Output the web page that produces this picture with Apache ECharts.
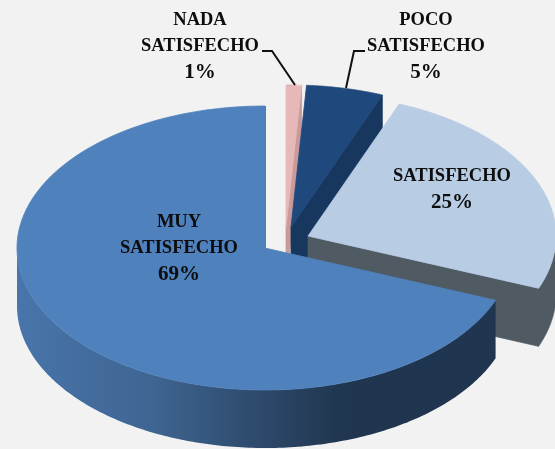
<!DOCTYPE html>
<html>
<head>
<meta charset="utf-8">
<style>html,body{margin:0;padding:0;background:#f2f2f2}#c{width:555px;height:449px}</style>
<script src="https://cdn.jsdelivr.net/npm/echarts@6/dist/echarts.min.js"></script>
</head>
<body>
<div id="c"></div>
<script>
// Data
const categories = ['NADA\nSATISFECHO', 'POCO\nSATISFECHO', 'SATISFECHO', 'MUY\nSATISFECHO'];
const values = [1, 5, 25, 69];

// Layout and style, per slice
const centers = [[286, 227], [291, 227], [308, 236], [265, 248]];
const topColors = ['#e6b9b8', '#1f497d', '#b8cce4', '#4f81bd'];
const cutColors = ['#c99a99', '#17375e', '#4f5a63', '#1f3550'];
const labelAt = [[200, 47], [426, 47], [452, 190], [179, 249]];
const leaders = [
  [[262, 51], [272, 51], [295, 85]],
  [[365, 51], [354, 51], [346, 88]],
  null,
  null
];
const RX = 248, RY = 142, DEPTH = 58;

const total = values.reduce((a, b) => a + b, 0);
const pt = (c, deg, dy) => {
  const r = deg * Math.PI / 180;
  return [c[0] + RX * Math.sin(r), c[1] - RY * Math.cos(r) + (dy || 0)];
};
const arc = (c, a, b, dy) => {
  const out = [];
  for (let i = 0; i <= 180; i++) out.push(pt(c, a + (b - a) * i / 180, dy));
  return out;
};
const startOf = i => values.slice(0, i).reduce((s, v) => s + v, 0) / total * 360;

function renderItem(params, api) {
  const i = params.dataIndex;
  const a = startOf(i);
  const b = a + api.value(0) / total * 360;
  const c = centers[i];
  const low = [c[0], c[1] + DEPTH];
  const poly = (points, fill, stroke) => ({
    type: 'polygon', shape: { points },
    style: stroke ? { fill, stroke, lineWidth: 0.8 } : { fill }
  });
  const cut = cutColors[i];
  const children = [
    poly([c, pt(c, b), pt(c, b, DEPTH), low], cut, cut)
  ];
  // Only the front half of the outer wall can be seen.
  const ra = Math.max(a, 90), rb = Math.min(b, 270);
  if (rb > ra) {
    const wall = arc(c, ra, rb, 0).concat(arc(c, ra, rb, DEPTH).reverse());
    children.push(i === 3
      ? poly(wall, {
          type: 'linear', x: 0, y: 0, x2: 1, y2: 0, global: false,
          colorStops: [{ offset: 0, color: '#4875ab' }, { offset: 0.28, color: '#3f6592' },
                       { offset: 0.55, color: '#2a4464' }, { offset: 0.68, color: '#20364f' },
                       { offset: 1, color: '#1f3550' }] })
      : poly(wall, cut, cut));
  }
  children.push(poly([c].concat(arc(c, a, b, 0)), topColors[i], topColors[i]));
  if (leaders[i]) {
    children.push({ type: 'polyline', shape: { points: leaders[i] },
      style: { stroke: '#111', lineWidth: 2, fill: null } });
  }
  const name = categories[i].split('\n').map(s => '{n|' + s + '}').join('\n');
  children.push({
    type: 'text',
    style: {
      x: labelAt[i][0], y: labelAt[i][1],
      text: name + '\n{p|' + api.value(0) + '%}',
      align: 'center', verticalAlign: 'middle',
      rich: {
        n: { font: 'bold 18.5px "Liberation Serif"', fill: '#0d0d0d', lineHeight: 26, align: 'center' },
        p: { font: 'bold 21px "Liberation Serif"', fill: '#0d0d0d', lineHeight: 27, align: 'center' }
      }
    }
  });
  return { type: 'group', children };
}

const chart = echarts.init(document.getElementById('c'), null, { renderer: 'canvas' });
chart.setOption({
  animation: false,
  backgroundColor: '#f2f2f2',
  series: [{
    type: 'custom',
    coordinateSystem: 'none',
    renderItem,
    data: values.map(v => [v]),
    encode: { value: 0 },
    silent: true
  }]
});
</script>
</body>
</html>
